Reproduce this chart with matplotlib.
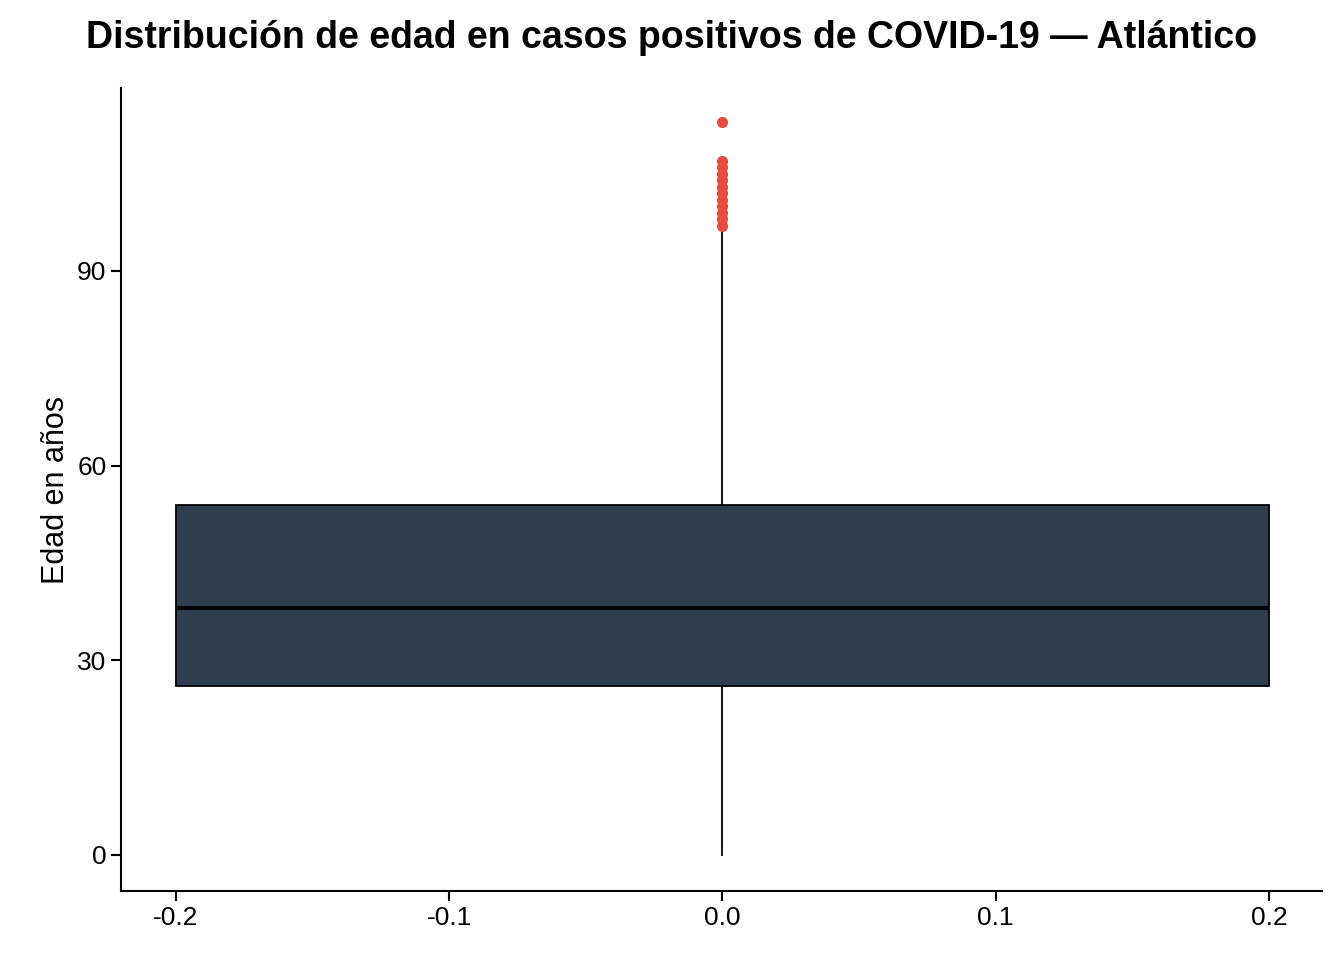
import matplotlib
matplotlib.use("Agg")
import matplotlib.pyplot as plt

plt.rcParams['font.family'] = ['Liberation Sans', 'DejaVu Sans']

q1, med, q3 = 26, 38, 54
whislo, whishi = 0, 96
outliers = [97, 98, 99, 100, 101, 102, 103, 104, 105, 106, 107, 113]

fig = plt.figure(figsize=(13.44, 9.6), dpi=100)
ax = fig.add_axes([121/1344, 1-891/960, (1322-121)/1344, (891-88)/960])
stats = [dict(med=med, q1=q1, q3=q3, whislo=whislo, whishi=whishi, fliers=outliers)]
ax.bxp(stats, positions=[0], widths=0.4, patch_artist=True, manage_ticks=False,
       boxprops=dict(facecolor='#2e3e50', edgecolor='black', linewidth=1.3),
       medianprops=dict(color='black', linewidth=3),
       whiskerprops=dict(color='black', linewidth=1.3),
       capprops=dict(linewidth=0),
       flierprops=dict(marker='o', markerfacecolor='#e74c3c', markeredgecolor='#e74c3c', markersize=7))
ax.set_xlim(-0.2201, 0.2194)
ax.set_ylim(-5.55, 118.2)
ax.set_xticks([-0.2, -0.1, 0.0, 0.1, 0.2])
ax.set_xticklabels(['-0.2', '-0.1', '0.0', '0.1', '0.2'])
ax.set_yticks([0, 30, 60, 90])
for s in ['top', 'right']:
    ax.spines[s].set_visible(False)
for s in ['left', 'bottom']:
    ax.spines[s].set_linewidth(1.5)
ax.tick_params(labelsize=19, width=1.5, length=7, colors='black')
ax.set_ylabel('Edad en años', fontsize=22)
fig.text(0.5, 1-38/960, 'Distribución de edad en casos positivos de COVID-19 — Atlántico',
         ha='center', va='center', fontsize=27, fontweight='bold')
fig.savefig('out.png', dpi=100)
